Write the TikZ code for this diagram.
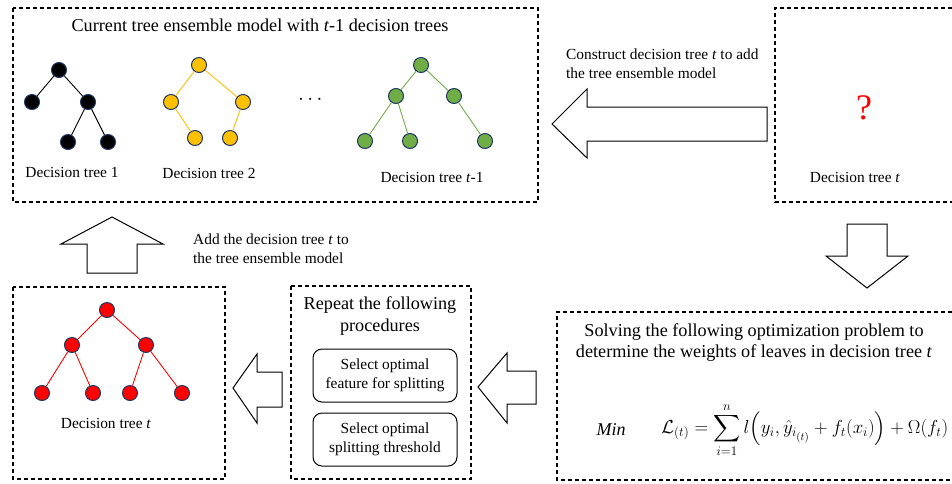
\documentclass[tikz,border=0pt]{standalone}
\usepackage{fontspec}
\setmainfont{Liberation Serif}
\usepackage{amsmath}
\definecolor{navy}{RGB}{31,56,100}
\definecolor{tyellow}{RGB}{255,192,0}
\definecolor{tgreen}{RGB}{112,173,71}
\definecolor{tred}{RGB}{255,0,0}
\begin{document}
\begin{tikzpicture}[x=1pt,y=-1pt,
  dbox/.style={draw, dash pattern=on 4pt off 3pt, line width=1.1pt},
  tn/.style={circle, draw=navy, line width=1pt, minimum size=15pt, inner sep=0pt},
  blacknode/.style={tn, fill=black},
  yellownode/.style={tn, fill=tyellow},
  greennode/.style={tn, fill=tgreen},
  rednode/.style={tn, fill=tred},
  blackedge/.style={draw=black, line width=0.9pt},
  yellowedge/.style={draw=tyellow, line width=0.9pt},
  greenedge/.style={draw=tgreen, line width=0.9pt},
  rededge/.style={draw=tred, line width=0.9pt},
  lbl/.style={font=\fontsize{15.4}{19}\selectfont, align=center, inner sep=0pt},
  biglbl/.style={font=\fontsize{18.2}{21}\selectfont, align=center, inner sep=0pt},
  blockarrow/.style={draw=black, line width=1pt, fill=white, line join=miter},
  stepbox/.style={draw=black, line width=1pt, rounded corners=9pt, minimum width=144pt, minimum height=53pt, align=center, font=\fontsize{15.4}{18.5}\selectfont, inner sep=0pt}
]
\useasboundingbox (0,0) rectangle (952,483);

% dashed boxes
\draw[dbox] (13,8) rectangle (538,202);
\draw[dbox] (952,8) -- (775,8) -- (775,202) -- (952,202);
\draw[dbox] (13,287) rectangle (225,479);
\draw[dbox] (291,286) rectangle (471,479);
\draw[dbox] (952,312) -- (557,312) -- (557,480) -- (952,480);

% title
\node[biglbl] (title) at (260,25) {Current tree ensemble model with \textit{t}-1 decision trees};

% black tree
\node[blacknode] (r1) at (59,70) {};
\node[blacknode] (a1) at (32,102) {};
\node[blacknode] (b1) at (88,102) {};
\node[blacknode] (c1) at (68,142) {};
\node[blacknode] (d1) at (108,142) {};
\path[blackedge] (r1) -- (a1) (r1) -- (b1) (b1) -- (c1) (b1) -- (d1);
\node[lbl] (l1) at (72,172) {Decision tree 1};

% yellow tree
\node[yellownode] (r2) at (199,65) {};
\node[yellownode] (a2) at (171,102) {};
\node[yellownode] (b2) at (243,102) {};
\node[yellownode] (c2) at (195,138) {};
\node[yellownode] (d2) at (230,138) {};
\path[yellowedge] (r2) -- (a2) (r2) -- (b2) (a2) -- (c2) (b2) -- (d2);
\node[lbl] (l2) at (209,173) {Decision tree 2};

\node[font=\fontsize{20}{22}\selectfont, inner sep=0pt] (dots) at (312,100) {$\cdots$};

% green tree
\node[greennode] (r3) at (421,65) {};
\node[greennode] (a3) at (396,96) {};
\node[greennode] (b3) at (454,96) {};
\node[greennode] (c3) at (365,141) {};
\node[greennode] (d3) at (410,141) {};
\node[greennode] (e3) at (485,141) {};
\path[greenedge] (r3) -- (a3) (r3) -- (b3) (a3) -- (c3) (a3) -- (d3) (b3) -- (e3);
\node[lbl] (l3) at (432,177) {Decision tree \textit{t}-1};

% big left arrow
\draw[blockarrow] (552,124) -- (587,89) -- (587,107) -- (767,107) -- (767,141) -- (587,141) -- (587,158) -- cycle;
\node[lbl, anchor=west, align=left] (construct) at (566,64) {Construct decision tree \textit{t} to add\\the tree ensemble model};

% question box
\node[text=tred, font=\fontsize{36}{38}\selectfont, inner sep=0pt] (q) at (864,108) {?};
\node[lbl] (lq) at (855,177) {Decision tree \textit{t}};

% down arrow
\draw[blockarrow] (847,224) -- (887,224) -- (887,256) -- (908,256) -- (867,288) -- (826,256) -- (847,256) -- cycle;

% up arrow
\draw[blockarrow] (112,217) -- (163,244) -- (137,244) -- (137,273) -- (87,273) -- (87,244) -- (61,244) -- cycle;
\node[lbl, anchor=west, align=left] (add) at (193,249) {Add the decision tree \textit{t} to\\the tree ensemble model};

% red tree
\node[rednode] (r4) at (107,310) {};
\node[rednode] (a4) at (72,345) {};
\node[rednode] (b4) at (146,345) {};
\node[rednode] (c4) at (42,393) {};
\node[rednode] (d4) at (93,393) {};
\node[rednode] (e4) at (130,393) {};
\node[rednode] (f4) at (182,393) {};
\path[rededge] (r4) -- (a4) (r4) -- (b4) (a4) -- (c4) (a4) -- (d4) (b4) -- (e4) (b4) -- (f4);
\node[lbl] (l4) at (106,423) {Decision tree \textit{t}};

% left arrows bottom
\draw[blockarrow] (233,388) -- (257,354) -- (257,372) -- (282,372) -- (282,407) -- (257,407) -- (257,423) -- cycle;
\draw[blockarrow] (478,387) -- (507,353) -- (507,371) -- (536,371) -- (536,404) -- (507,404) -- (507,423) -- cycle;

% middle box
\node[font=\fontsize{18.2}{22}\selectfont, align=center, inner sep=0pt] (repeat) at (380,316) {Repeat the following\\procedures};
\node[stepbox] (s1) at (385,375.5) {Select optimal\\feature for splitting};
\node[stepbox] (s2) at (385,439.5) {Select optimal\\splitting threshold};

% optimisation box
\node[biglbl] (solve) at (754,343) {Solving the following optimization problem to\\determine the weights of leaves in decision tree \textit{t}};
\node[font=\fontsize{18}{20}\selectfont, inner sep=0pt] (min) at (611,430) {\textit{Min}};
\node[font=\fontsize{17.28}{21}\selectfont, inner sep=0pt, anchor=west] (eq) at (661,430) {\scalebox{1.09}{$\displaystyle \mathcal{L}_{(t)} = \sum_{i=1}^{n} l\Bigl(y_i, \hat{y}_{i_{(t)}} + f_t(x_i)\Bigr) + \Omega(f_t)$}};
\end{tikzpicture}
\end{document}
